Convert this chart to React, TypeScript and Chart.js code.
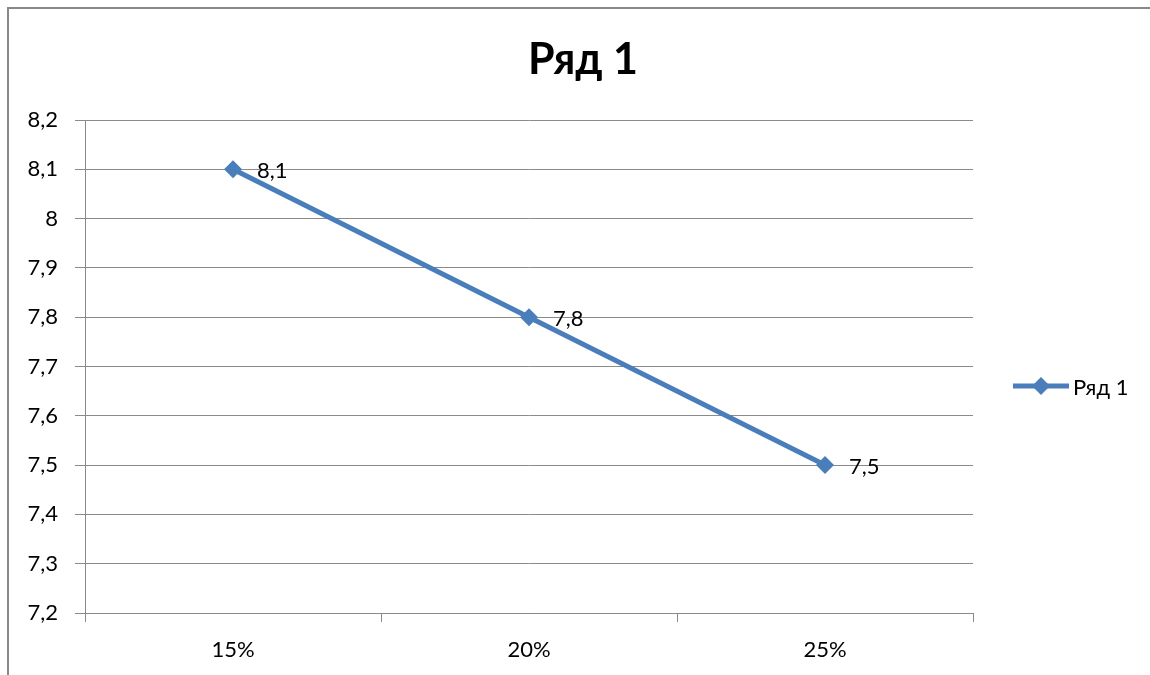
import React, { useEffect, useRef } from "react";
import { Chart, registerables } from "chart.js";

Chart.register(...registerables);

const categories = ["15%", "20%", "25%"];
const seriesName = "Ряд 1";
const seriesValues = [8.1, 7.8, 7.5];
const yMin = 7.2;
const yMax = 8.2;
const yStep = 0.1;

const FONT = "Lato, 'Open Sans', 'DejaVu Sans', sans-serif";
const LINE_COLOR = "#4a7ebb";
const GRID_COLOR = "#8a8a8a";

const fmt = (v: number) => {
  const r = Math.round(v * 10) / 10;
  return String(r).replace(".", ",");
};

export default function App() {
  const ref = useRef<HTMLCanvasElement | null>(null);
  useEffect(() => {
    if (!ref.current) return;
    const labelsPlugin = {
      id: "pointLabels",
      afterDatasetsDraw(chart: any) {
        const ctx = chart.ctx;
        const meta = chart.getDatasetMeta(0);
        ctx.save();
        ctx.font = `22px ${FONT}`;
        ctx.fillStyle = "#000";
        ctx.textAlign = "left";
        ctx.textBaseline = "alphabetic";
        meta.data.forEach((pt: any, i: number) => {
          ctx.fillText(fmt(seriesValues[i]), pt.x + 24, pt.y + 9);
        });
        ctx.restore();
      },
    };
    const titlePlugin = {
      id: "customTitle",
      afterDraw(chart: any) {
        const ctx = chart.ctx;
        ctx.save();
        ctx.font = `bold 43px ${FONT}`;
        ctx.fillStyle = "#000";
        ctx.textAlign = "center";
        ctx.textBaseline = "alphabetic";
        ctx.fillText(seriesName, 583, 74);
        ctx.restore();
      },
    };
    const legendPlugin = {
      id: "customLegend",
      afterDraw(chart: any) {
        const ctx = chart.ctx;
        const y = 386;
        ctx.save();
        ctx.strokeStyle = LINE_COLOR;
        ctx.lineWidth = 5;
        ctx.beginPath();
        ctx.moveTo(1013, y);
        ctx.lineTo(1069, y);
        ctx.stroke();
        ctx.fillStyle = LINE_COLOR;
        ctx.beginPath();
        ctx.moveTo(1041, y - 9);
        ctx.lineTo(1050, y);
        ctx.lineTo(1041, y + 9);
        ctx.lineTo(1032, y);
        ctx.closePath();
        ctx.fill();
        ctx.font = `22px ${FONT}`;
        ctx.fillStyle = "#000";
        ctx.textAlign = "left";
        ctx.textBaseline = "alphabetic";
        ctx.fillText(seriesName, 1073, y + 9);
        ctx.restore();
      },
    };
    const chart = new Chart(ref.current, {
      type: "line",
      data: {
        labels: categories,
        datasets: [
          {
            label: seriesName,
            data: seriesValues,
            borderColor: LINE_COLOR,
            backgroundColor: LINE_COLOR,
            borderWidth: 5,
            pointStyle: "rectRot",
            pointRadius: 9,
            pointBorderWidth: 0,
            pointBackgroundColor: LINE_COLOR,
            tension: 0,
          },
        ],
      },
      options: {
        responsive: false,
        animation: false,
        devicePixelRatio: 1,
        layout: { padding: { left: 0, right: 177, top: 120, bottom: 0 } },
        plugins: {
          legend: { display: false },
          tooltip: { enabled: false },
          title: { display: false },
        },
        scales: {
          x: {
            type: "category",
            offset: true,
            afterFit: (s: any) => {
              s.height = 62;
            },
            grid: {
              offset: true,
              drawOnChartArea: false,
              drawTicks: true,
              tickLength: 9,
              color: GRID_COLOR,
              lineWidth: 1,
            },
            border: { display: true, color: GRID_COLOR, width: 1 },
            ticks: {
              color: "#000",
              font: { family: FONT, size: 22 },
              padding: 15,
              maxRotation: 0,
            },
          },
          y: {
            min: yMin,
            max: yMax,
            afterFit: (s: any) => {
              s.width = 85;
            },
            grid: {
              color: GRID_COLOR,
              lineWidth: 1,
              drawTicks: true,
              tickLength: 10,
            },
            border: { display: true, color: GRID_COLOR, width: 1 },
            ticks: {
              stepSize: yStep,
              color: "#000",
              font: { family: FONT, size: 22 },
              padding: 17,
              callback: (v: any) => fmt(Number(v)),
            },
          },
        },
      },
      plugins: [labelsPlugin, titlePlugin, legendPlugin],
    });
    return () => chart.destroy();
  }, []);
  return (
    <>
      <canvas
        ref={ref}
        width={1150}
        height={675}
        style={{ position: "fixed", left: 0, top: 0, width: 1150, height: 675 }}
      />
      <div
        style={{
          position: "fixed",
          left: 7,
          top: 7,
          width: 1150,
          height: 675,
          borderLeft: "2px solid #888",
          borderTop: "2px solid #888",
          pointerEvents: "none",
        }}
      />
    </>
  );
}
